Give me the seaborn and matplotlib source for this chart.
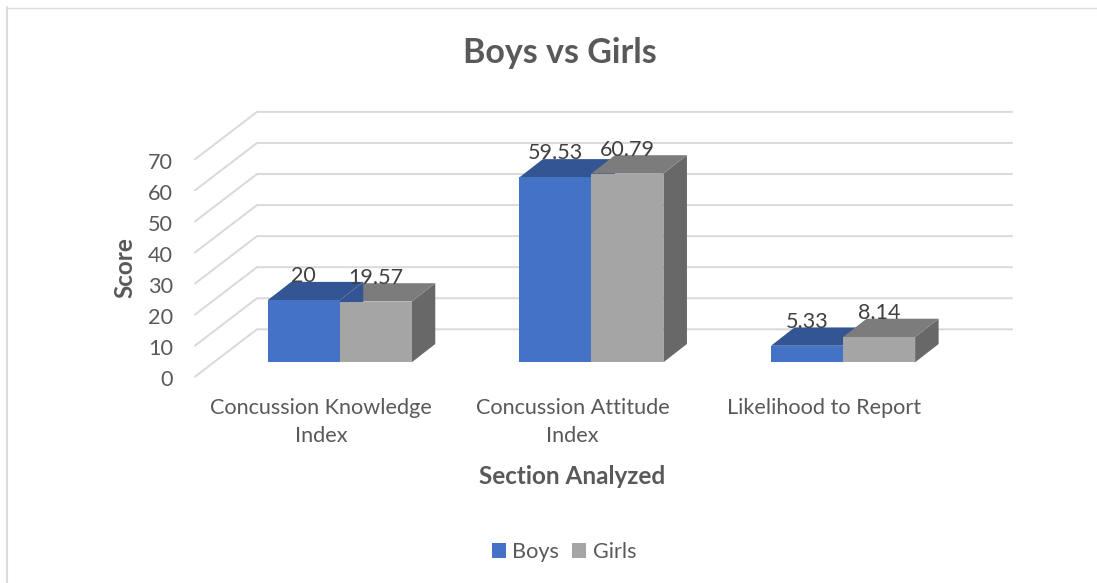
# -*- coding: utf-8 -*-
import pandas as pd
import matplotlib
matplotlib.use("Agg")
import matplotlib.pyplot as plt
from matplotlib.lines import Line2D
from matplotlib.patches import Polygon
from matplotlib.transforms import ScaledTranslation
import seaborn as sns

# Data
sections = ["Concussion Knowledge\nIndex", "Concussion Attitude\nIndex", "Likelihood to Report"]
boys = [20, 59.53, 5.33]
girls = [19.57, 60.79, 8.14]
y_ticks = [0, 10, 20, 30, 40, 50, 60, 70]

front_colors = {"Boys": "#4472C4", "Girls": "#A5A5A5"}
top_colors = {"Boys": "#335593", "Girls": "#7C7C7C"}
side_colors = {"Boys": "#335593", "Girls": "#686868"}

df = pd.DataFrame({
    "section": sections * 2,
    "score": boys + girls,
    "gender": ["Boys"] * 3 + ["Girls"] * 3,
})

sns.set_theme(style="white")
plt.rcParams["font.family"] = ["Lato", "DejaVu Sans"]

W, H = 1097, 583
fig = plt.figure(figsize=(W / 100, H / 100), dpi=100)

# Axes is the front plane of the fake 3D box (pixels of the reference)
left, right, bottom, top = 195, 950, 376.7, 159.3
ax = fig.add_axes([left / W, 1 - bottom / H, (right - left) / W, (bottom - top) / H])

sns.barplot(data=df, x="section", y="score", hue="gender", palette=front_colors,
            width=0.5725, gap=0, saturation=1, linewidth=0, ax=ax)
ax.set_xlim(-0.5, 2.5)
ax.set_ylim(0, 70)

# pixels to data units
px_x = 3 / (right - left)
px_y = 70 / (bottom - top)

# Gridlines: front edge, back edge, right end of the back wall
for v in y_ticks:
    ax.plot([-0.5, -0.5 + 62 * px_x, -0.5 + 817 * px_x],
            [v, v + 47.4 * px_y, v + 47.4 * px_y],
            color="#D9D9D9", lw=1.4, clip_on=False, zorder=1, solid_joinstyle="miter")

# Bars stand a bit inside the box and have their own depth
shift_x, shift_y = 18.9 * px_x, 14.4 * px_y
depth_x, depth_y = 23.5 * px_x, 18.3 * px_y

for i, (cont, name) in enumerate(zip(ax.containers, ["Boys", "Girls"])):
    for j, bar in enumerate(cont):
        bar.set_x(bar.get_x() + shift_x)
        bar.set_y(bar.get_y() + shift_y)
        bar.set_zorder(7 + i)
        # a taller boys bar shows over the top of the girls bar next to it
        over = name == "Boys" and boys[j] > girls[j]
        z = 5 if over else 2 + i
        x0, x1 = bar.get_x(), bar.get_x() + bar.get_width()
        y0, y1 = bar.get_y(), bar.get_y() + bar.get_height()
        ax.add_patch(Polygon([(x1, y0), (x1 + depth_x, y0 + depth_y), (x1 + depth_x, y1 + depth_y), (x1, y1)],
                             closed=True, fc=side_colors[name], ec="none", clip_on=False, zorder=z))
        ax.add_patch(Polygon([(x0, y1), (x1, y1), (x1 + depth_x, y1 + depth_y), (x0 + depth_x, y1 + depth_y)],
                             closed=True, fc=top_colors[name], ec="none", clip_on=False, zorder=z + 0.5))
        ax.text((x0 + x1) / 2, y1 + 24 * px_y, f"{bar.get_height():g}", ha="center", va="center",
                fontsize=15.5, color="#404040", zorder=10, clip_on=False)

ax.set_xlabel("")
ax.set_ylabel("")
sns.despine(ax=ax, left=True, bottom=True)
ax.tick_params(axis="x", length=0, pad=15, labelsize=15.6, labelcolor="#595959")
ax.tick_params(axis="y", length=0, pad=16, labelsize=15.6, labelcolor="#595959")
ax.set_yticks(y_ticks)
for lab in ax.get_xticklabels():
    lab.set_linespacing(1.54)
# y labels sit slightly lower than their gridline ends
for lab in ax.get_yticklabels():
    lab.set_transform(lab.get_transform() + ScaledTranslation(0, -1.5 / 100, fig.dpi_scale_trans))

fig.text(560 / W, 1 - 53 / H, "Boys vs Girls", ha="center", va="center",
         fontsize=24.5, fontweight="bold", color="#595959")
fig.text(125 / W, 1 - 268 / H, "Score", ha="center", va="center", rotation=90,
         fontsize=17.5, fontweight="bold", color="#595959")
fig.text(572 / W, 1 - 476.5 / H, "Section Analyzed", ha="center", va="center",
         fontsize=17.5, fontweight="bold", color="#595959")

handles, labels = ax.get_legend_handles_labels()
ax.legend_.remove()
fig.legend(handles, labels, loc="center", bbox_to_anchor=(564 / W, 1 - 552 / H), ncol=2, frameon=False,
           fontsize=15.6, labelcolor="#595959", handlelength=0.65, handleheight=0.65,
           handletextpad=0.3, columnspacing=0.6)

# Chart area border
fig.add_artist(Line2D([7 / W, 7 / W], [0, 1 - 7 / H], color="#DCDCDC", lw=1.5))
fig.add_artist(Line2D([6 / W, 1], [1 - 7.5 / H, 1 - 7.5 / H], color="#DCDCDC", lw=1))

fig.savefig("out.png", dpi=100)
